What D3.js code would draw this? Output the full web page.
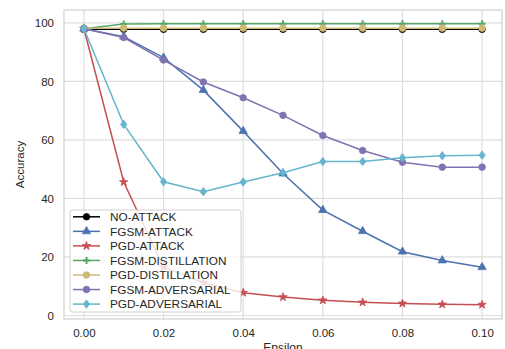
<!DOCTYPE html>
<html>
<head>
<meta charset="utf-8">
<script src="https://cdn.jsdelivr.net/npm/d3@7"></script>
<style>
  body { margin: 0; background: #fff; }
  text { font-family: "Liberation Sans", Arial, sans-serif; fill: #262626; }
</style>
</head>
<body>
<svg id="chart"></svg>
<script>
var epsilons = [0.00, 0.01, 0.02, 0.03, 0.04, 0.05, 0.06, 0.07, 0.08, 0.09, 0.10];

var noAttack         = [97.8, 97.8, 97.8, 97.8, 97.8, 97.8, 97.8, 97.8, 97.8, 97.8, 97.8];
var fgsmAttack       = [98.0, 95.3, 88.1, 77.0, 63.0, 48.5, 36.0, 28.8, 21.8, 18.8, 16.5];
var pgdAttack        = [98.0, 45.6, 16.5, 11.2, 7.8, 6.3, 5.2, 4.5, 4.1, 3.8, 3.7];
var fgsmDistillation = [98.0, 99.6, 99.7, 99.7, 99.7, 99.7, 99.7, 99.7, 99.7, 99.7, 99.7];
var pgdDistillation  = [98.2, 98.2, 98.2, 98.2, 98.2, 98.2, 98.2, 98.2, 98.2, 98.2, 98.2];
var fgsmAdversarial  = [98.0, 95.0, 87.3, 79.8, 74.4, 68.4, 61.5, 56.4, 52.4, 50.7, 50.7];
var pgdAdversarial   = [98.0, 65.3, 45.7, 42.3, 45.6, 48.8, 52.6, 52.6, 53.9, 54.6, 54.8];

var seriesNames = ["NO-ATTACK", "FGSM-ATTACK", "PGD-ATTACK", "FGSM-DISTILLATION",
                   "PGD-DISTILLATION", "FGSM-ADVERSARIAL", "PGD-ADVERSARIAL"];
var seriesValues = [noAttack, fgsmAttack, pgdAttack, fgsmDistillation,
                    pgdDistillation, fgsmAdversarial, pgdAdversarial];
var seriesColors = ["#000000", "#4C72B0", "#C44E52", "#55A868", "#CCB974", "#8172B2", "#64B5CD"];
var seriesMarkers = ["circle", "triangle", "star", "plus", "circle", "circle", "diamond"];

var xTicks = [0.00, 0.02, 0.04, 0.06, 0.08, 0.10];
var yTicks = [0, 20, 40, 60, 80, 100];

var screen = { width: 505, height: 349 };
var margins = { top: 10, bottom: 30, left: 64, right: 3 };

var drawChart = function(svgSelector)
{
  var graphWidth = screen.width - margins.left - margins.right;
  var graphHeight = screen.height - margins.top - margins.bottom;

  var xScale = d3.scaleLinear()
                 .domain([-0.005, 0.105])
                 .range([margins.left, margins.left + graphWidth]);

  var yScale = d3.scaleLinear()
                 .domain([-1.2, 104.4])
                 .range([margins.top + graphHeight, margins.top]);

  var svg = d3.select(svgSelector)
              .attr("width", screen.width)
              .attr("height", screen.height);

  // grid
  svg.append("g").selectAll("line")
     .data(xTicks).enter().append("line")
     .attr("x1", function(d){return xScale(d)})
     .attr("x2", function(d){return xScale(d)})
     .attr("y1", margins.top)
     .attr("y2", margins.top + graphHeight)
     .style("stroke", "#dedede")
     .style("stroke-width", 1.2);

  svg.append("g").selectAll("line")
     .data(yTicks).enter().append("line")
     .attr("x1", margins.left)
     .attr("x2", margins.left + graphWidth)
     .attr("y1", function(d){return yScale(d)})
     .attr("y2", function(d){return yScale(d)})
     .style("stroke", "#dedede")
     .style("stroke-width", 1.2);

  svg.append("rect")
     .attr("x", margins.left)
     .attr("y", margins.top)
     .attr("width", graphWidth)
     .attr("height", graphHeight)
     .attr("fill", "none")
     .style("stroke", "#d0d0d0")
     .style("stroke-width", 1.2);

  // tick labels
  var xAxis = d3.axisBottom(xScale).tickValues(xTicks).tickSize(0).tickPadding(9.5)
                .tickFormat(d3.format(".2f"));
  var gx = svg.append("g")
              .attr("transform", "translate(0," + (margins.top + graphHeight) + ")")
              .call(xAxis);
  var yAxis = d3.axisLeft(yScale).tickValues(yTicks).tickSize(0).tickPadding(10)
                .tickFormat(d3.format("d"));
  var gy = svg.append("g")
              .attr("transform", "translate(" + margins.left + ",0)")
              .call(yAxis);
  [gx, gy].forEach(function(g){
    g.select(".domain").remove();
    g.selectAll("text").attr("font-size", 11.5).style("fill", "#262626")
     .attr("font-family", "Liberation Sans, Arial, sans-serif");
  });

  svg.append("text")
     .text("Epsilon")
     .attr("x", margins.left + graphWidth / 2)
     .attr("y", 352)
     .attr("text-anchor", "middle")
     .attr("font-size", 12);

  svg.append("text")
     .text("Accuracy")
     .attr("transform", "translate(24," + (margins.top + graphHeight / 2) + ") rotate(-90)")
     .attr("text-anchor", "middle")
     .attr("font-size", 11.5);

  var markerPath = function(kind)
  {
    if (kind == "circle") return d3.symbol(d3.symbolCircle, 34)();
    if (kind == "triangle") return d3.symbol(d3.symbolTriangle, 30)();
    if (kind == "star") return d3.symbol(d3.symbolStar, 22)();
    if (kind == "diamond") return "M0,-4.2L3.2,0L0,4.2L-3.2,0Z";
    return "M-3.5,0H3.5M0,-3.5V3.5";
  };

  var drawMarker = function(g, kind, color, x, y)
  {
    var m = g.append("path")
             .attr("d", markerPath(kind))
             .attr("transform", "translate(" + x + "," + y + ")");
    if (kind == "plus") {
      m.attr("fill", "none").style("stroke", color).style("stroke-width", 2);
    } else {
      m.attr("fill", color).style("stroke", color).style("stroke-width", 0.8);
    }
  };

  var lineDrawer = d3.line()
                     .x(function(d){return xScale(d[0])})
                     .y(function(d){return yScale(d[1])});

  var lines = svg.append("g");
  seriesValues.forEach(function(values, i){
    var pts = epsilons.map(function(e, j){return [e, values[j]]});
    var g = lines.append("g");
    g.append("path")
     .datum(pts)
     .attr("d", lineDrawer)
     .attr("fill", "none")
     .style("stroke", seriesColors[i])
     .style("stroke-width", 1.5);
    pts.forEach(function(p){
      drawMarker(g, seriesMarkers[i], seriesColors[i], xScale(p[0]), yScale(p[1]));
    });
  });

  // legend
  var legend = svg.append("g");
  legend.append("rect")
        .attr("x", 70)
        .attr("y", 210)
        .attr("width", 171)
        .attr("height", 102)
        .attr("rx", 2.5)
        .attr("fill", "white")
        .attr("fill-opacity", 0.8)
        .style("stroke", "#d0d0d0")
        .style("stroke-width", 1);

  seriesNames.forEach(function(name, i){
    var ly = 216.8 + i * 14.55;
    legend.append("line")
          .attr("x1", 73).attr("x2", 100)
          .attr("y1", ly).attr("y2", ly)
          .style("stroke", seriesColors[i])
          .style("stroke-width", 1.5);
    drawMarker(legend, seriesMarkers[i], seriesColors[i], 86.5, ly);
    legend.append("text")
          .text(name)
          .attr("x", 110)
          .attr("y", ly + 4.2)
          .attr("font-size", 11.8);
  });
};

drawChart("#chart");
</script>
</body>
</html>
